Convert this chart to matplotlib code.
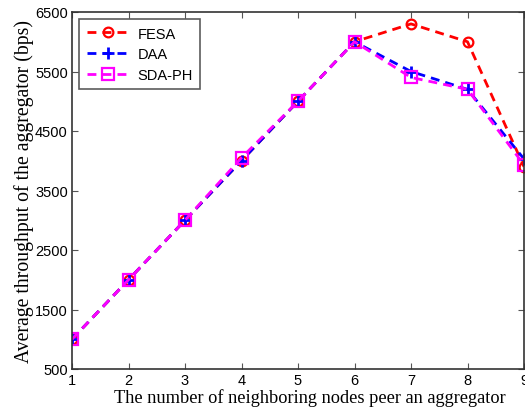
import matplotlib
matplotlib.use("Agg")
import matplotlib.pyplot as plt

x = [1, 2, 3, 4, 5, 6, 7, 8, 9]
fesa = [1000, 2000, 3000, 4000, 5000, 6000, 6300, 6000, 3900]
daa = [1000, 2000, 3000, 4000, 5000, 6000, 5500, 5200, 4030]
sdaph = [1000, 2000, 3000, 4050, 5000, 6000, 5400, 5200, 3930]
yticks = [500, 1500, 2500, 3500, 4500, 5500, 6500]

fig = plt.figure(figsize=(5.25, 4.14), dpi=100)
ax = fig.add_axes([72/525, 1-370/414, (524-72)/525, (370-13)/414])

dash = (3.2, 2.2)
ax.plot(x, fesa, color='red', ls='--', lw=2, marker='o', mfc='none', mec='red', ms=7, mew=1.6, label='FESA', dashes=dash)
ax.plot(x, daa, color='blue', ls='--', lw=2, marker='+', mec='blue', ms=8, mew=2, label='DAA', dashes=dash)
ax.plot(x, sdaph, color='magenta', ls='--', lw=2, marker='s', mfc='none', mec='magenta', ms=8, mew=1.6, label='SDA-PH', dashes=dash)

ax.set_xlim(1, 9)
ax.set_ylim(500, 6500)
ax.set_xticks(x)
ax.set_yticks(yticks)
ax.tick_params(direction='in', top=True, right=True, length=4, color='#555555', labelsize=10.5, pad=3)
for lab in ax.get_xticklabels() + ax.get_yticklabels():
    lab.set_fontfamily('Liberation Sans')
for s in ax.spines.values():
    s.set_color('#333333')
    s.set_linewidth(1.2)

ax.set_xlabel('The number of neighboring nodes peer an aggregator', family='Liberation Serif', fontsize=13.2, labelpad=1)
ax.xaxis.set_label_coords(0.527, -0.045, transform=None) if False else None
ax.xaxis.label.set_x(0.527)
ax.set_ylabel('Average throughput of the aggregator (bps)', family='Liberation Serif', fontsize=14.2, labelpad=1)

leg = ax.legend(loc='upper left', prop={'family': 'Liberation Sans', 'size': 10.5}, fancybox=False,
                edgecolor='#333333', handlelength=3.0, borderaxespad=0.5, labelspacing=0.45, borderpad=0.5,
                handletextpad=0.5)
leg.get_frame().set_linewidth(1.2)

fig.savefig('out.png', dpi=100)
